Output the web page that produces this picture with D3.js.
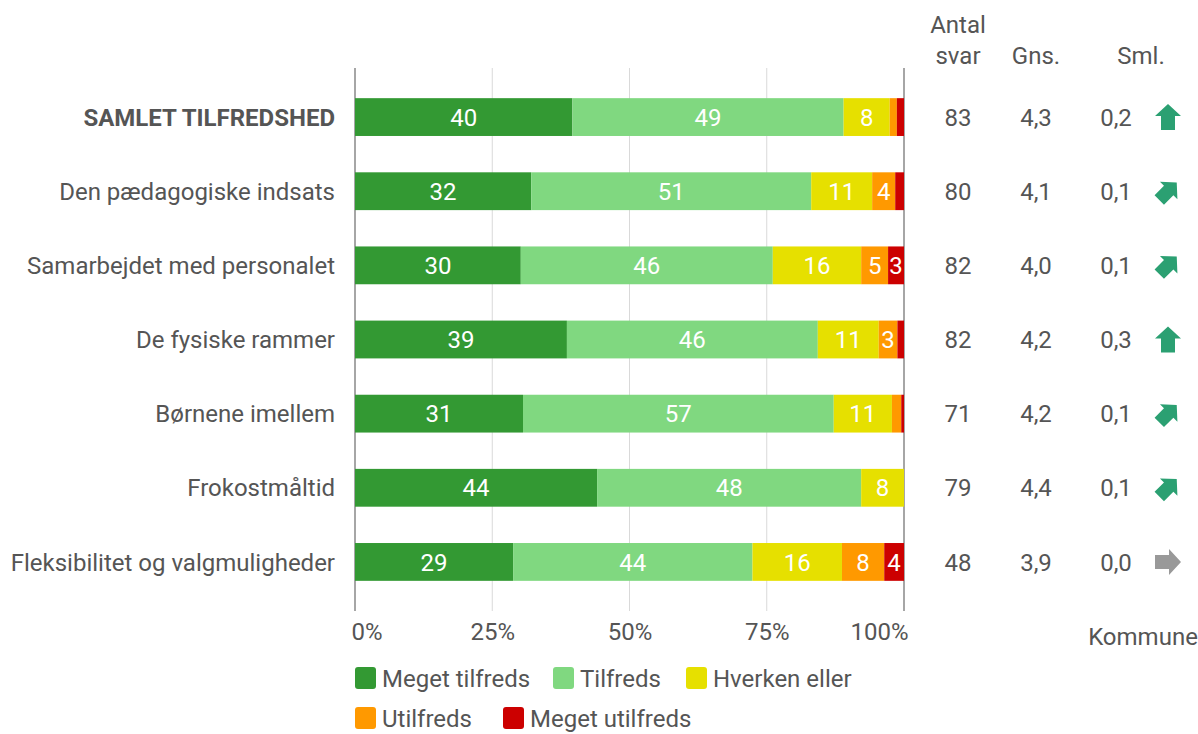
<!DOCTYPE html>
<html>
<head>
<meta charset="utf-8">
<script src="https://cdn.jsdelivr.net/npm/d3@7"></script>
<style>
  body { margin: 0; background: #fff; }
  svg { font-family: Roboto, "Noto Sans", sans-serif; }
</style>
</head>
<body>
<svg id="chart" width="1198" height="734"></svg>
<script>
// data
var categories = ["SAMLET TILFREDSHED", "Den pædagogiske indsats", "Samarbejdet med personalet",
    "De fysiske rammer", "Børnene imellem", "Frokostmåltid", "Fleksibilitet og valgmuligheder"];
var seriesNames = ["Meget tilfreds", "Tilfreds", "Hverken eller", "Utilfreds", "Meget utilfreds"];
var megetTilfreds = [39.6, 32.1, 30.2, 38.6, 30.6, 44.1, 28.8];
var tilfreds = [49.4, 51.0, 45.9, 45.7, 56.6, 48.1, 43.6];
var hverken = [8.4, 11.1, 16.1, 11.1, 10.6, 7.8, 16.3];
var utilfreds = [1.3, 4.2, 4.9, 3.4, 1.7, 0, 7.7];
var megetUtilfreds = [1.3, 1.6, 2.9, 1.2, 0.5, 0, 3.6];
var antalSvar = ["83", "80", "82", "82", "71", "79", "48"];
var gns = ["4,3", "4,1", "4,0", "4,2", "4,2", "4,4", "3,9"];
var sml = ["0,2", "0,1", "0,1", "0,3", "0,1", "0,1", "0,0"];
var trend = ["up", "diag", "diag", "up", "diag", "diag", "flat"];
var tickValues = [0, 25, 50, 75, 100];

var colors = ["#339933", "#80d880", "#e6e000", "#ff9900", "#cc0000"];
var textColor = "#555555";
var fs = 24;

var svg = d3.select("#chart");

var rows = categories.map(function(c, i) {
    return {
        cat: c,
        "Meget tilfreds": megetTilfreds[i],
        "Tilfreds": tilfreds[i],
        "Hverken eller": hverken[i],
        "Utilfreds": utilfreds[i],
        "Meget utilfreds": megetUtilfreds[i]
    };
});

var x = d3.scaleLinear().domain([0, 100]).range([355, 904]);
var y = d3.scaleBand().domain(categories).range([80, 599])
    .paddingInner(0.49).paddingOuter(0.245);

// grid lines
svg.append("g")
    .selectAll("line")
    .data(tickValues)
    .enter().append("line")
    .attr("x1", function(d) { return x(d); })
    .attr("x2", function(d) { return x(d); })
    .attr("y1", 68)
    .attr("y2", 611)
    .attr("stroke", function(d) { return (d === 0 || d === 100) ? "#a6a6a6" : "#d9d9d9"; })
    .attr("stroke-width", function(d) { return (d === 0 || d === 100) ? 2 : 1; });

// tick labels
var xAxis = d3.axisBottom(x).tickValues(tickValues)
    .tickFormat(function(d) { return d + "%"; }).tickSize(0).tickPadding(0);
var axisG = svg.append("g").attr("transform", "translate(0,623)").call(xAxis);
axisG.select(".domain").remove();
axisG.selectAll("text")
    .attr("font-family", "Roboto, sans-serif")
    .attr("font-size", fs)
    .attr("fill", textColor)
    .attr("dy", "0.71em");
axisG.selectAll(".tick").filter(function(d) { return d === 0; }).select("text").attr("text-anchor", "start").attr("dx", -4);
axisG.selectAll(".tick").filter(function(d) { return d === 100; }).select("text").attr("text-anchor", "end").attr("dx", 4);

// stacked bars
var stack = d3.stack().keys(seriesNames);
var layers = stack(rows);

var layer = svg.append("g")
    .selectAll("g")
    .data(layers)
    .enter().append("g")
    .attr("fill", function(d, i) { return colors[i]; });

layer.selectAll("rect")
    .data(function(d) { return d; })
    .enter().append("rect")
    .attr("x", function(d) { return x(d[0]); })
    .attr("y", function(d) { return y(d.data.cat); })
    .attr("width", function(d) { return x(d[1]) - x(d[0]); })
    .attr("height", y.bandwidth());

layer.selectAll("text")
    .data(function(d) { return d.filter(function(p) { return p[1] - p[0] >= 2.5; }); })
    .enter().append("text")
    .attr("x", function(d) { return (x(d[0]) + x(d[1])) / 2; })
    .attr("y", function(d) { return y(d.data.cat) + y.bandwidth() / 2; })
    .attr("dy", "0.36em")
    .attr("text-anchor", "middle")
    .attr("font-size", fs)
    .attr("fill", "#fff")
    .text(function(d) { return Math.round(d[1] - d[0]); });

// category labels
svg.append("g")
    .selectAll("text")
    .data(categories)
    .enter().append("text")
    .attr("x", 335)
    .attr("y", function(d) { return y(d) + y.bandwidth() / 2; })
    .attr("dy", "0.36em")
    .attr("text-anchor", "end")
    .attr("font-size", fs)
    .attr("font-weight", function(d, i) { return i === 0 ? "bold" : "normal"; })
    .attr("fill", textColor)
    .text(function(d) { return d; });

// right hand columns
function column(values, cx) {
    svg.append("g")
        .selectAll("text")
        .data(values)
        .enter().append("text")
        .attr("x", cx)
        .attr("y", function(d, i) { return y(categories[i]) + y.bandwidth() / 2; })
        .attr("dy", "0.36em")
        .attr("text-anchor", "middle")
        .attr("font-size", fs)
        .attr("fill", textColor)
        .text(function(d) { return d; });
}
column(antalSvar, 958);
column(gns, 1036);
column(sml, 1116);

// headers
var headers = [["Antal", 958, 24], ["svar", 958, 55], ["Gns.", 1036, 55], ["Sml.", 1141, 55], ["Kommune", 1143, 636]];
svg.append("g")
    .selectAll("text")
    .data(headers)
    .enter().append("text")
    .attr("x", function(d) { return d[1]; })
    .attr("y", function(d) { return d[2]; })
    .attr("dy", "0.36em")
    .attr("text-anchor", "middle")
    .attr("font-size", fs)
    .attr("fill", textColor)
    .text(function(d) { return d[0]; });

// trend arrows
var arrowPath = "M0,-13 L13,-1 L7,-1 L7,13 L-7,13 L-7,-1 L-13,-1 Z";
svg.append("g")
    .selectAll("path")
    .data(trend)
    .enter().append("path")
    .attr("d", arrowPath)
    .attr("fill", function(d) { return d === "flat" ? "#999999" : "#2ba072"; })
    .attr("transform", function(d, i) {
        var cy = y(categories[i]) + y.bandwidth() / 2;
        var rot = d === "up" ? 0 : (d === "diag" ? 45 : 90);
        var s = d === "diag" ? 0.95 : 1;
        return "translate(1168," + cy + ") rotate(" + rot + ") scale(" + s + ")";
    });

// legend
var legendItems = [
    { name: seriesNames[0], x: 355, y: 678 },
    { name: seriesNames[1], x: 553, y: 678 },
    { name: seriesNames[2], x: 686, y: 678 },
    { name: seriesNames[3], x: 355, y: 718 },
    { name: seriesNames[4], x: 503, y: 718 }
];
var leg = svg.append("g")
    .selectAll("g")
    .data(legendItems)
    .enter().append("g")
    .attr("transform", function(d) { return "translate(" + d.x + "," + d.y + ")"; });
leg.append("rect")
    .attr("x", 0).attr("y", -11)
    .attr("width", 21).attr("height", 22)
    .attr("rx", 3)
    .attr("fill", function(d, i) { return colors[i]; });
leg.append("text")
    .attr("x", 27)
    .attr("dy", "0.36em")
    .attr("font-size", fs)
    .attr("fill", textColor)
    .text(function(d) { return d.name; });
</script>
</body>
</html>
